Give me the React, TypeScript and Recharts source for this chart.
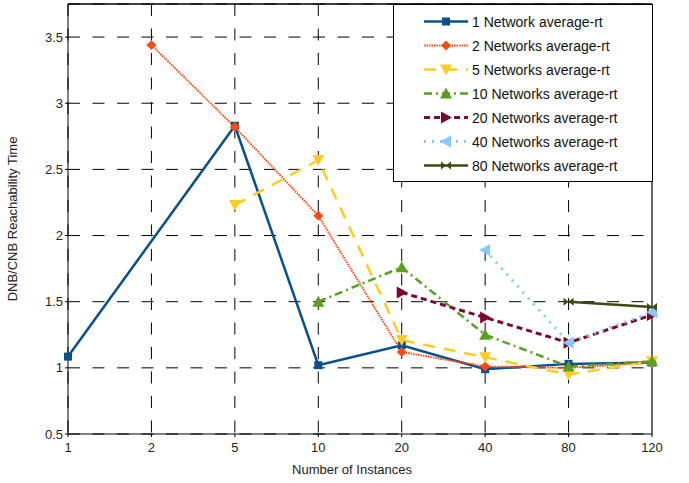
import React from "react";
import {
  CartesianGrid,
  Line,
  LineChart,
  ReferenceLine,
  XAxis,
  YAxis,
} from "recharts";

const categories = ["1", "2", "5", "10", "20", "40", "80", "120"];
const yTicks = [0.5, 1, 1.5, 2, 2.5, 3, 3.5];

const net1 = [1.085, null, 2.83, 1.02, 1.17, 0.99, 1.03, 1.04];
const net2 = [null, 3.44, 2.82, 2.15, 1.12, 1.01, 1.0, 1.04];
const net5 = [null, null, 2.23, 2.57, 1.21, 1.08, 0.95, 1.05];
const net10 = [null, null, null, 1.5, 1.76, 1.25, 1.01, 1.05];
const net20 = [null, null, null, null, 1.57, 1.38, 1.19, 1.4];
const net40 = [null, null, null, null, null, 1.89, 1.19, 1.42];
const net80 = [null, null, null, null, null, null, 1.5, 1.46];

const FONT = "'Liberation Sans', Arial, sans-serif";

type Shape = "square" | "diamond" | "down" | "up" | "right" | "left" | "bowtie";

const series: Array<{
  key: string;
  name: string;
  values: Array<number | null>;
  color: string;
  dash?: string;
  width: number;
  shape: Shape;
}> = [
  { key: "n1", name: "1 Network average-rt", values: net1, color: "#0b4f8c", width: 2.5, shape: "square" },
  { key: "n2", name: "2 Networks average-rt", values: net2, color: "#ff4a14", dash: "1.5 1", width: 2, shape: "diamond" },
  { key: "n5", name: "5 Networks average-rt", values: net5, color: "#ffcc22", dash: "12 9", width: 2.5, shape: "down" },
  { key: "n10", name: "10 Networks average-rt", values: net10, color: "#5a9e22", dash: "8 4 2 4", width: 2.5, shape: "up" },
  { key: "n20", name: "20 Networks average-rt", values: net20, color: "#7a0a2c", dash: "6 4", width: 3, shape: "right" },
  { key: "n40", name: "40 Networks average-rt", values: net40, color: "#88c8ff", dash: "2 6", width: 3, shape: "left" },
  { key: "n80", name: "80 Networks average-rt", values: net80, color: "#3a4a10", width: 2.5, shape: "bowtie" },
];

const data = categories.map((name, i) => {
  const row: Record<string, string | number | null> = { name };
  series.forEach((s) => {
    row[s.key] = s.values[i];
  });
  return row;
});

function Marker({ cx, cy, shape, color }: { cx: number; cy: number; shape: Shape; color: string }) {
  switch (shape) {
    case "square":
      return <rect x={cx - 4} y={cy - 4} width={8} height={8} fill={color} />;
    case "diamond":
      return <polygon points={`${cx},${cy - 5} ${cx + 5},${cy} ${cx},${cy + 5} ${cx - 5},${cy}`} fill={color} />;
    case "down":
      return <polygon points={`${cx - 6},${cy - 5} ${cx + 6},${cy - 5} ${cx},${cy + 6}`} fill={color} />;
    case "up":
      return <polygon points={`${cx - 6},${cy + 5} ${cx + 6},${cy + 5} ${cx},${cy - 6}`} fill={color} />;
    case "right":
      return <polygon points={`${cx - 5},${cy - 6} ${cx - 5},${cy + 6} ${cx + 6},${cy}`} fill={color} />;
    case "left":
      return <polygon points={`${cx + 5},${cy - 6} ${cx + 5},${cy + 6} ${cx - 6},${cy}`} fill={color} />;
    case "bowtie":
      return (
        <g fill={color}>
          <polygon points={`${cx - 5},${cy - 4} ${cx - 5},${cy + 4} ${cx},${cy}`} />
          <polygon points={`${cx + 5},${cy - 4} ${cx + 5},${cy + 4} ${cx},${cy}`} />
        </g>
      );
  }
  return null;
}

function makeDot(shape: Shape, color: string) {
  return (props: any) => {
    const { cx, cy, index } = props;
    if (cx == null || cy == null || props.value == null) return <g key={`d-${index}`} />;
    return (
      <g key={`d-${index}`}>
        <Marker cx={cx} cy={cy} shape={shape} color={color} />
      </g>
    );
  };
}

function LegendBox() {
  return (
    <svg
      width={260}
      height={178}
      style={{ position: "absolute", left: 392.5, top: 3.5, overflow: "visible" }}
    >
      <rect x={0.5} y={0.5} width={259} height={177} fill="#fff" stroke="#000" strokeWidth={1} />
      {series.map((s, i) => {
        const y = 17.5 + i * 24;
        return (
          <g key={s.key}>
            <line
              x1={31}
              x2={75}
              y1={y}
              y2={y}
              stroke={s.color}
              strokeWidth={s.width}
              strokeDasharray={s.dash}
            />
            <Marker cx={53} cy={y} shape={s.shape} color={s.color} />
            <text x={79} y={y + 5} fontSize={14} fontFamily={FONT} fill="#111">
              {s.name}
            </text>
          </g>
        );
      })}
    </svg>
  );
}

export default function App() {
  return (
    <div style={{ position: "absolute", left: 0, top: 0, width: 689, height: 483, background: "#fff" }}>
      <LineChart
        width={689}
        height={483}
        data={data}
        margin={{ top: 4, right: 37, left: 0, bottom: 0 }}
      >
        <CartesianGrid stroke="#000" strokeWidth={1} strokeDasharray="12 12.5" />
        <XAxis
          dataKey="name"
          height={49}
          stroke="#000"
          tickSize={3}
          tickMargin={6}
          tick={{ fill: "#222", fontSize: 13, fontFamily: FONT }}
          tickLine={{ stroke: "#000" }}
          label={{
            value: "Number of Instances",
            position: "insideBottom",
            offset: 9,
            dx: -8,
            fill: "#222",
            fontSize: 13,
            fontFamily: FONT,
          }}
        />
        <YAxis
          domain={[0.5, 3.75]}
          ticks={yTicks}
          width={68}
          stroke="#000"
          tickSize={3}
          allowDataOverflow
          tick={{ fill: "#222", fontSize: 13, fontFamily: FONT }}
          label={{
            value: "DNB/CNB Reachability Time",
            angle: -90,
            position: "insideLeft",
            offset: 12,
            style: { textAnchor: "middle" },
            fill: "#222",
            fontSize: 13,
            fontFamily: FONT,
          }}
        />
        <ReferenceLine y={3.75} stroke="#000" strokeWidth={1.5} />
        <ReferenceLine x="120" stroke="#666" strokeWidth={2} />
        {series.map((s) => (
          <Line
            key={s.key}
            dataKey={s.key}
            name={s.name}
            type="linear"
            stroke={s.color}
            strokeWidth={s.width}
            strokeDasharray={s.dash}
            connectNulls
            dot={makeDot(s.shape, s.color)}
            activeDot={false}
            isAnimationActive={false}
          />
        ))}
      </LineChart>
      <LegendBox />
    </div>
  );
}
